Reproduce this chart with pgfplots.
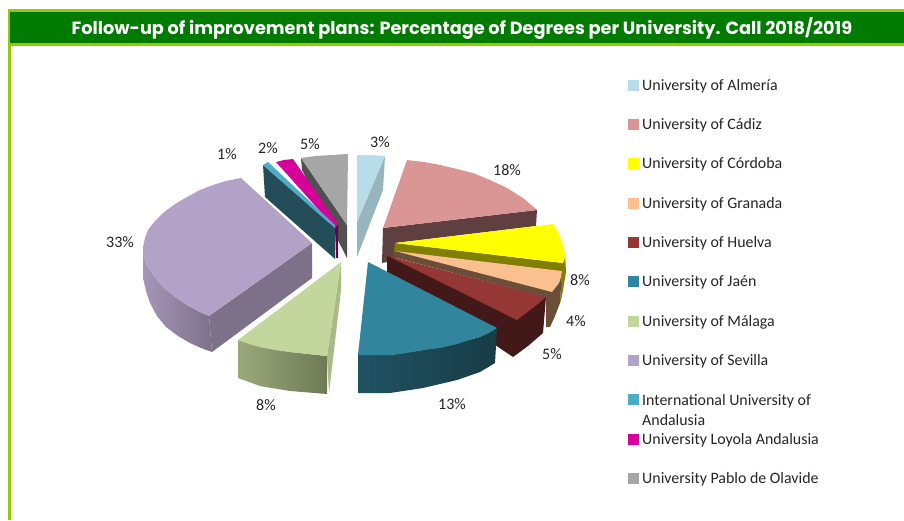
\documentclass[border=0pt]{standalone}
\usepackage{pgfplots}
\pgfplotsset{compat=1.18}
\usepackage{fontspec}
\setmainfont{Carlito}
\newfontfamily\titlefont{Poppins}
\definecolor{cAlm}{HTML}{B7DDE8}\definecolor{cAlmS}{HTML}{96B5BC}
\definecolor{cCad}{HTML}{D99694}\definecolor{cCadS}{HTML}{5F3F40}
\definecolor{cCor}{HTML}{FFFF00}\definecolor{cCorS}{HTML}{807F00}
\definecolor{cGra}{HTML}{FAC090}\definecolor{cGraS}{HTML}{6B4E38}
\definecolor{cHue}{HTML}{953735}\definecolor{cHueS}{HTML}{431818}
\definecolor{cJae}{HTML}{31859C}\definecolor{cJaeA}{HTML}{215263}\definecolor{cJaeB}{HTML}{173C46}
\definecolor{cMal}{HTML}{C3D69B}\definecolor{cMalA}{HTML}{9BA87A}\definecolor{cMalB}{HTML}{6E7A56}\definecolor{cMalS}{HTML}{A9BA86}
\definecolor{cSev}{HTML}{B3A2C7}\definecolor{cSevA}{HTML}{A596B8}\definecolor{cSevB}{HTML}{7D7189}
\definecolor{cInt}{HTML}{4BACC6}\definecolor{cIntS}{HTML}{234D58}
\definecolor{cLoy}{HTML}{D6009A}\definecolor{cLoyS}{HTML}{6B004A}
\definecolor{cOla}{HTML}{A6A6A6}\definecolor{cOlaS}{HTML}{505050}
\definecolor{lime}{HTML}{92CC00}\definecolor{hdr}{HTML}{007A00}
\pgfplotsset{
  sl/.style={draw=none,mark=none,fill=#1},
  gr/.style 2 args={draw=none,mark=none,left color=#1,right color=#2},
  sq/.style={only marks,mark=square*,mark size=5pt,mark options={draw=#1,fill=#1,line width=0pt}}
}
\newcommand{\lab}[3]{\node[anchor=center,font=\fontsize{16}{18}\selectfont,text=black!85] at (axis cs:#1,#2) {#3};}
\newcommand{\leg}[3]{\node[anchor=west,inner sep=0pt,font=\fontsize{15.9}{18}\selectfont,text=black!85] at (axis cs:#1,#2) {#3};}
\begin{document}
\begin{tikzpicture}
\begin{axis}[
  scale only axis,width=904pt,height=520pt,
  xmin=0,xmax=904,ymin=0,ymax=520,y dir=reverse,
  hide axis,clip=false]
\addplot[sl=white] coordinates {(0,0)(904,0)(904,520)(0,520)} --cycle;
% frame
\addplot[sl=lime] coordinates {(8,9)(904,9)(904,46)(8,46)} --cycle;
\addplot[sl=hdr] coordinates {(10,12)(904,12)(904,43)(10,43)} --cycle;
\addplot[sl=lime] coordinates {(8,46)(10.5,46)(10.5,520)(8,520)} --cycle;
% Cadiz
\addplot[sl=cCadS] coordinates {(383,228)(537,210)(536,226)(395,243)(398,258)(387,262)(382,263)} --cycle;
\addplot[sl=cCad] coordinates {(407,160)(424,162)(440,165)(457,169)(473,173)(490,180)(507,188)(523,198)(537,210)(383,228)} --cycle;
% Cordoba
\addplot[sl=cCorS] coordinates {(565,253)(566,272)(562,296)(560,303)(562,268)} --cycle;
\addplot[sl=cCorS] coordinates {(395,243)(394,252)(563,273)(563,263)} --cycle;
\addplot[sl=cCor] coordinates {(395,243)(553,224)(557,230)(560,237)(563,245)(565,253)(565,258)(563,263)} --cycle;
% Granada
\addplot[sl=cGraS] coordinates {(393,251)(393,257)(546,297)(546,327)(550,327)(555,316)(560,303)(562,271)} --cycle;
\addplot[sl=cGra] coordinates {(395,251)(562,271)(561,277)(559,283)(552,292)} --cycle;
% Huelva
\addplot[sl=cHueS] coordinates {(387,256)(387,272)(513,357)(528,346)(543,333)(546,297)} --cycle;
\addplot[sl=cHue] coordinates {(388,256)(546,297)(538,304)(530,310)(517,320)} --cycle;
% Jaen
\addplot[gr={cJaeA}{cJaeB}] coordinates {(358,355)(390,355)(423,350)(457,343)(480,337)(497,328)(495,363)(480,372)(457,380)(423,388)(390,393)(358,393)} --cycle;
\addplot[sl=cJae] coordinates {(368,262)(497,328)(489,333)(480,337)(469,340)(457,344)(440,348)(423,350)(407,353)(390,355)(374,355)(358,355)} --cycle;
% Almeria
\addplot[sl=cAlmS] coordinates {(385,156)(383,190)(357,257)(357,222)} --cycle;
\addplot[sl=cAlm] coordinates {(357,155)(371,155)(385,156)(357,222)} --cycle;
% Olavide
\addplot[sl=cOlaS] coordinates {(301,158)(302,170)(347,258)(347,225)} --cycle;
\addplot[sl=cOla] coordinates {(301,158)(316,156)(332,155)(348,154)(347,225)} --cycle;
% Loyola
\addplot[sl=cLoyS] coordinates {(335,225)(336,258)(338,258)(338,224)} --cycle;
\addplot[sl=cLoy] coordinates {(276,162)(284,160)(293,159)(338,224)(335,228)} --cycle;
% International
\addplot[sl=cIntS] coordinates {(263,165)(265,197)(335,259)(335,228)} --cycle;
\addplot[sl=cInt] coordinates {(263,165)(268,162)(335,225)(335,228)} --cycle;
% Sevilla
\addplot[sl=cSevB] coordinates {(312,243)(312,278)(212,352)(209,316)} --cycle;
\addplot[gr={cSevA}{cSevB}] coordinates {(143,247)(143,255)(147,265)(154,276)(163,287)(175,297)(187,305)(198,311)(209,316)(212,352)(201,348)(190,343)(178,336)(166,327)(157,316)(150,303)(146,291)(143,278)(143,262)} --cycle;
\addplot[sl=cSev] coordinates {(241,178)(226,181)(213,185)(200,190)(187,197)(175,204)(163,213)(155,221)(148,230)(145,238)(143,247)(143,255)(147,265)(154,276)(163,287)(175,297)(187,305)(198,311)(209,316)(312,243)} --cycle;
% Malaga
\addplot[sl=cMalS] coordinates {(341,262)(341,290)(329,393)(327,356)} --cycle;
\addplot[gr={cMalA}{cMalB}] coordinates {(238,340)(260,347)(290,352)(327,356)(327,394)(290,391)(260,386)(238,378)} --cycle;
\addplot[sl=cMal] coordinates {(341,262)(327,356)(308,354)(290,352)(275,350)(260,347)(249,344)(238,340)} --cycle;
% legend squares
\addplot[sq=cAlm] coordinates {(633,85)};
\addplot[sq=cCad] coordinates {(633,124)};
\addplot[sq=cCor] coordinates {(633,163)};
\addplot[sq=cGra] coordinates {(633,203)};
\addplot[sq=cHue] coordinates {(633,242)};
\addplot[sq=cJae] coordinates {(633,281)};
\addplot[sq=cMal] coordinates {(633,321)};
\addplot[sq=cSev] coordinates {(633,360)};
\addplot[sq=cInt] coordinates {(633,399)};
\addplot[sq=cLoy] coordinates {(633,439)};
\addplot[sq=cOla] coordinates {(633,478)};
% texts
\node[anchor=center,text=white,font=\titlefont\bfseries\fontsize{17.7}{20}\selectfont] at (axis cs:462,29) {Follow-up of improvement plans: Percentage of Degrees per University. Call 2018/2019};
\leg{642}{86}{University of Almería}
\leg{642}{125}{University of Cádiz}
\leg{642}{164}{University of Córdoba}
\leg{642}{204}{University of Granada}
\leg{642}{243}{University of Huelva}
\leg{642}{282}{University of Jaén}
\leg{642}{322}{University of Málaga}
\leg{642}{361}{University of Sevilla}
\leg{642}{401}{International University of}
\leg{642}{420}{Andalusia}
\leg{642}{440}{University Loyola Andalusia}
\leg{642}{479}{University Pablo de Olavide}
\lab{380}{142}{3\%}
\lab{507}{170}{18\%}
\lab{580}{280}{8\%}
\lab{576}{321}{4\%}
\lab{552}{354}{5\%}
\lab{452}{404}{13\%}
\lab{266}{405}{8\%}
\lab{120}{242}{33\%}
\lab{227}{154}{1\%}
\lab{268}{148}{2\%}
\lab{310}{144}{5\%}
\end{axis}
\end{tikzpicture}
\end{document}
